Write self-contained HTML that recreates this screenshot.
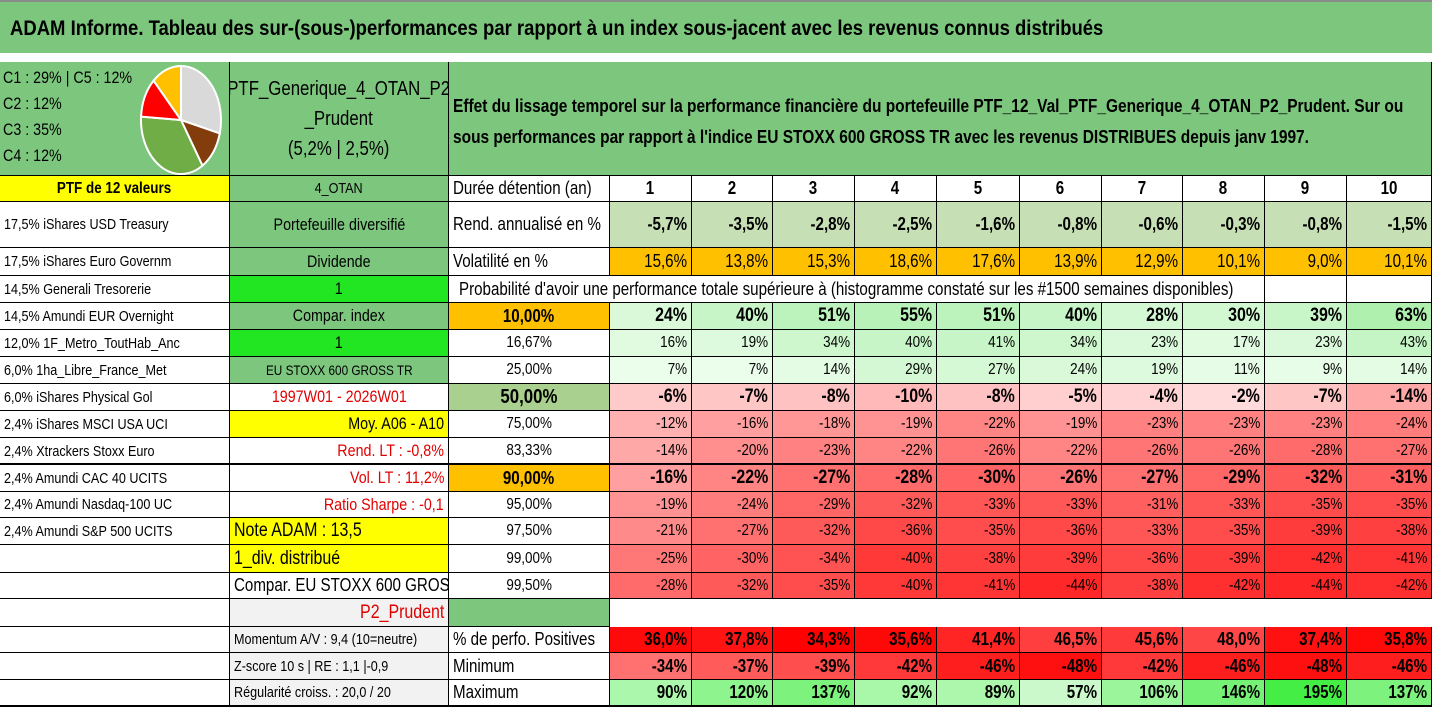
<!DOCTYPE html>
<html><head><meta charset="utf-8">
<style>
body{margin:0;width:1432px;height:717px;overflow:hidden;background:#fff;font-family:"Liberation Sans Narrow","Liberation Sans",sans-serif;color:#000}
.c{position:absolute;box-sizing:border-box;border-right:1px solid #000;border-bottom:1px solid #000;display:flex;align-items:center;white-space:nowrap;overflow:hidden;font-size:15px;padding:0 4px}
.c span{display:inline-block;flex:none}
.t{position:absolute}
</style></head><body>
<div class="t" style="left:0;top:0;width:1432px;height:53px;background:#7DC67E;border-top:2px solid #8a8a8a;box-sizing:border-box"></div>
<div class="t" style="left:10px;top:17px;font-size:21px;font-weight:bold;white-space:nowrap;transform:scaleX(0.88);transform-origin:left">ADAM Informe. Tableau des sur-(sous-)performances par rapport à un index sous-jacent avec les revenus connus distribués</div>
<div id="grid"></div>
<svg id="pie" class="t" style="left:136px;top:62px" width="90" height="114"></svg>
<div class="t" style="left:0;top:705px;width:1432px;height:2px;background:#000"></div>
<div class="t" style="left:0;top:463px;width:1432px;height:2px;background:#000"></div>
<script>
const years=['1','2','3','4','5','6','7','8','9','10'];
const rendAnn=[-5.7,-3.5,-2.8,-2.5,-1.6,-0.8,-0.6,-0.3,-0.8,-1.5];
const vol=[15.6,13.8,15.3,18.6,17.6,13.9,12.9,10.1,9.0,10.1];
const quantiles=['10,00%','16,67%','25,00%','50,00%','75,00%','83,33%','90,00%','95,00%','97,50%','99,00%','99,50%'];
const q10=[24,40,51,55,51,40,28,30,39,63];
const q17=[16,19,34,40,41,34,23,17,23,43];
const q25=[7,7,14,29,27,24,19,11,9,14];
const q50=[-6,-7,-8,-10,-8,-5,-4,-2,-7,-14];
const q75=[-12,-16,-18,-19,-22,-19,-23,-23,-23,-24];
const q83=[-14,-20,-23,-22,-26,-22,-26,-26,-28,-27];
const q90=[-16,-22,-27,-28,-30,-26,-27,-29,-32,-31];
const q95=[-19,-24,-29,-32,-33,-33,-31,-33,-35,-35];
const q975=[-21,-27,-32,-36,-35,-36,-33,-35,-39,-38];
const q99=[-25,-30,-34,-40,-38,-39,-36,-39,-42,-41];
const q995=[-28,-32,-35,-40,-41,-44,-38,-42,-44,-42];
const posPct=[36.0,37.8,34.3,35.6,41.4,46.5,45.6,48.0,37.4,35.8];
const minimum=[-34,-37,-39,-42,-46,-48,-42,-46,-48,-46];
const maximum=[90,120,137,92,89,57,106,146,195,137];
const pieLabels=['C1','C2','C3','C4','C5'];
const pieValues=[29,12,35,12,12];

const rowY=[176,202,248,276,303,330,357,384,411,438,465,492,518,545,573,599,627,653,680,706];
const colX=[610,692,773,855,937,1020,1102,1183,1265,1347,1432];
const G='#7DC67E';
const SX=0.84;
const grid=document.getElementById('grid');
function cell(x,y,w,h,txt,o){
  const d=document.createElement('div');d.className='c';
  d.style.left=x+'px';d.style.top=y+'px';d.style.width=w+'px';d.style.height=h+'px';
  o=o||{};d.style.background=o.bg||'#fff';
  const al=o.al||'center';
  d.style.justifyContent=al;
  if(o.b)d.style.fontWeight='bold';
  if(o.fs)d.style.fontSize=o.fs+'px';
  if(o.col)d.style.color=o.col;
  const s=document.createElement('span');
  s.style.transform='scaleX('+SX+')';
  s.style.transformOrigin=al=='flex-end'?'right':(al=='flex-start'?'left':'center');
  if(o.html)s.innerHTML=txt;else s.textContent=txt;
  d.appendChild(s);
  
  
  grid.appendChild(d);return d;
}
function fmt(v,dec){return (dec?v.toFixed(dec):String(v)).replace('.',',')+'%';}
function mix(a,b,t){t=Math.max(0,Math.min(1,t));const p=s=>[1,3,5].map(i=>parseInt(s.substr(i,2),16));const A=p(a),B=p(b);return 'rgb('+A.map((v,i)=>Math.round(v+(B[i]-v)*t)).join(',')+')';}
function heat(v){return v>=0?mix('#F2FFF2','#A8EEA8',v/70):mix('#FFE4E4','#FF1E1E',-v/46);}
// header block
cell(0,62,230,114,'',{bg:G,name:'pie-panel'});
const lab=document.createElement('div');lab.className='t';
lab.style.cssText='left:3px;top:65px;font-size:17px;line-height:26px;transform:scaleX(0.84);transform-origin:left top;white-space:nowrap';
lab.innerHTML=pieLabels[0]+' : '+pieValues[0]+'% | '+pieLabels[4]+' : '+pieValues[4]+'%<br>'+[1,2,3].map(i=>pieLabels[i]+' : '+pieValues[i]+'%').join('<br>');
document.body.appendChild(lab);
const t2=cell(230,62,219,114,'PTF_Generique_4_OTAN_P2<br>_Prudent<br>(5,2% | 2,5%)',{bg:G,name:'portfolio-title',fs:20,html:true});
t2.firstChild.style.textAlign='center';t2.firstChild.style.lineHeight='30px';
const t3=cell(449,62,983,114,'Effet du lissage temporel sur la performance financière du portefeuille PTF_12_Val_PTF_Generique_4_OTAN_P2_Prudent. Sur ou<br>sous performances par rapport à l\'indice EU STOXX 600 GROSS TR avec les revenus DISTRIBUES depuis janv 1997.',{bg:G,al:'flex-start',name:'description',fs:18,b:true,html:true});
t3.firstChild.style.lineHeight='31px';t3.firstChild.style.transform='scaleX(0.86)';t3.style.paddingTop='6px';
// left column
const leftTxt=['PTF de 12 valeurs','17,5% iShares USD Treasury','17,5% iShares Euro Governm','14,5% Generali Tresorerie','14,5% Amundi EUR Overnight','12,0% 1F_Metro_ToutHab_Anc','6,0% 1ha_Libre_France_Met','6,0% iShares Physical Gol','2,4% iShares MSCI USA UCI','2,4% Xtrackers Stoxx Euro','2,4% Amundi CAC 40 UCITS','2,4% Amundi Nasdaq-100 UC','2,4% Amundi S&P 500 UCITS','','','','','',''];
const mid=[['4_OTAN',{bg:G}],['Portefeuille diversifié',{bg:G,fs:17}],['Dividende',{bg:G,fs:17}],['1',{bg:'#22E622',fs:17}],['Compar. index',{bg:G,fs:17}],['1',{bg:'#22E622',fs:17}],['EU STOXX 600 GROSS TR',{bg:G,fs:14}],['1997W01 - 2026W01',{col:'#E00000',fs:17}],['Moy. A06 - A10',{bg:'#FFFF00',al:'flex-end',fs:17}],['Rend. LT : -0,8%',{col:'#E00000',al:'flex-end',fs:17}],['Vol. LT : 11,2%',{col:'#E00000',al:'flex-end',fs:17}],['Ratio Sharpe : -0,1',{col:'#E00000',al:'flex-end',fs:17}],['Note ADAM : 13,5',{bg:'#FFFF00',al:'flex-start',fs:19}],['1_div. distribué',{bg:'#FFFF00',al:'flex-start',fs:19}],['Compar. EU STOXX 600 GROSS TR',{al:'flex-start',fs:18}],['P2_Prudent',{bg:'#F2F2F2',col:'#E00000',al:'flex-end',fs:19}],['Momentum A/V : 9,4 (10=neutre)',{bg:'#F2F2F2',al:'flex-start',fs:15}],['Z-score 10 s | RE : 1,1 |-0,9',{bg:'#F2F2F2',al:'flex-start',fs:15}],['Régularité croiss. : 20,0 / 20',{bg:'#F2F2F2',al:'flex-start',fs:15}]];
for(let r=0;r<19;r++){
  const y=rowY[r],h=rowY[r+1]-y;
  cell(0,y,230,h,leftTxt[r],r==0?{bg:'#FFFF00',b:true,fs:16,name:'ptf-header'}:{al:'flex-start',fs:15,name:'holding-'+r});
  const o=Object.assign({name:'info-'+r},mid[r][1]);cell(230,y,219,h,mid[r][0],o);
}
// third column
const third=['Durée détention (an)','Rend. annualisé en %','Volatilité en %'];
for(let r=0;r<3;r++)cell(449,rowY[r],161,rowY[r+1]-rowY[r],third[r],{al:'flex-start',fs:18,name:'row-label'});
cell(449,rowY[3],816,rowY[4]-rowY[3],"Probabilité d'avoir une performance totale supérieure à (histogramme constaté sur les #1500 semaines disponibles)",{al:'flex-start',fs:18,name:'prob-caption'}).style.paddingLeft='10px';
cell(1265,rowY[3],82,rowY[4]-rowY[3],'',{name:'blank'});cell(1347,rowY[3],85,rowY[4]-rowY[3],'',{name:'blank'});
const qRows=[q10,q17,q25,q50,q75,q83,q90,q95,q975,q99,q995];
const boldQ=[0,3,6];
for(let i=0;i<11;i++){
  const r=4+i,y=rowY[r],h=rowY[r+1]-y;
  const bg=i==0||i==6?'#FFC000':(i==3?'#A9D08E':'#fff');
  cell(449,y,161,h,quantiles[i],{bg:bg,b:boldQ.includes(i),fs:i==3?20:(boldQ.includes(i)?18:16),name:'quantile-label'});
  for(let k=0;k<10;k++){
    cell(colX[k],y,colX[k+1]-colX[k],h,fmt(qRows[i][k]),{bg:heat(qRows[i][k]),al:'flex-end',b:boldQ.includes(i),fs:boldQ.includes(i)?19:16,name:'prob-cell'});
  }
}
cell(449,rowY[15],161,rowY[16]-rowY[15],'',{bg:G,name:'green-block'});
const x3=['% de perfo. Positives','Minimum','Maximum'];
for(let i=0;i<3;i++)cell(449,rowY[16+i],161,rowY[17+i]-rowY[16+i],x3[i],{al:'flex-start',fs:18,name:'stat-label'});
for(let k=0;k<10;k++){
  const w=colX[k+1]-colX[k];
  cell(colX[k],rowY[0],w,26,years[k],{b:true,fs:18,name:'year-header'});
  cell(colX[k],rowY[1],w,46,fmt(rendAnn[k],1),{bg:'#C6DFB4',al:'flex-end',b:true,fs:18,name:'rend-cell'});
  cell(colX[k],rowY[2],w,28,fmt(vol[k],1),{bg:'#FFC000',al:'flex-end',fs:18,name:'vol-cell'});
  cell(colX[k],rowY[16],w,26,fmt(posPct[k],1),{bg:mix('#FF0000','#FF4646',(posPct[k]-34)/14),al:'flex-end',b:true,fs:18,name:'pos-cell'});
  cell(colX[k],rowY[17],w,27,fmt(minimum[k]),{bg:mix('#FF7070','#FF1010',(-minimum[k]-34)/14),al:'flex-end',b:true,fs:18,name:'min-cell'});
  cell(colX[k],rowY[18],w,26,fmt(maximum[k]),{bg:mix('#D2FAD2','#40EE40',(maximum[k]-50)/150),al:'flex-end',b:true,fs:18,name:'max-cell'});
}
// pie
const pie=document.getElementById('pie');const pc=['#D9D9D9','#833C0B','#70AD47','#FF0000','#FFC000'];
const cx=45,cy=58,rx=40,ry=54;let a=-Math.PI/2;const tot=pieValues.reduce((s,v)=>s+v,0);
const order=[0,4,2,1,3];
order.forEach(i=>{
  const v=pieValues[i],a2=a+v/tot*2*Math.PI;
  const p=document.createElementNS('http://www.w3.org/2000/svg','path');
  const x1=cx+rx*Math.cos(a),y1=cy+ry*Math.sin(a),x2=cx+rx*Math.cos(a2),y2=cy+ry*Math.sin(a2);
  p.setAttribute('d',`M${cx},${cy}L${x1},${y1}A${rx},${ry} 0 ${a2-a>Math.PI?1:0} 1 ${x2},${y2}Z`);
  p.setAttribute('fill',pc[order.indexOf(i)]);p.setAttribute('stroke','#fff');p.setAttribute('stroke-width','2');
  
  
  pie.appendChild(p);a=a2;
});
</script>
</body></html>
